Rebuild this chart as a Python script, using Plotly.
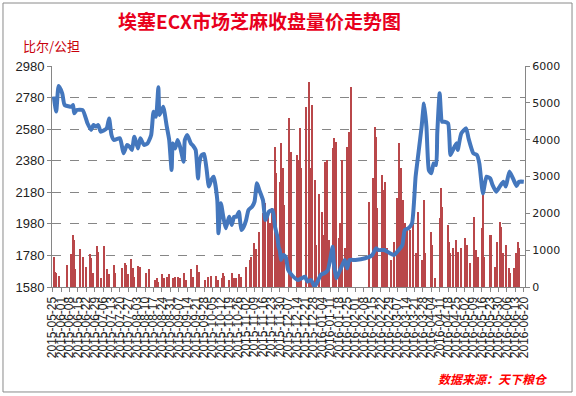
import plotly.graph_objects as go

# ---- price line (比尔/公担) ----
price_dates = [
    "2015-05-26","2015-05-28","2015-05-30","2015-06-02","2015-06-04","2015-06-10","2015-06-11","2015-06-12",
    "2015-06-14","2015-06-19","2015-06-23","2015-06-26","2015-06-28","2015-06-30","2015-07-02","2015-07-04",
    "2015-07-09","2015-07-11","2015-07-13","2015-07-15","2015-07-20","2015-07-23","2015-07-26","2015-07-28",
    "2015-07-30","2015-08-01","2015-08-04","2015-08-06","2015-08-09","2015-08-12","2015-08-15","2015-08-17",
    "2015-08-19","2015-08-21","2015-08-22","2015-08-25","2015-08-28","2015-08-30","2015-09-01","2015-09-02",
    "2015-09-04","2015-09-06","2015-09-08","2015-09-11","2015-09-12","2015-09-14","2015-09-17","2015-09-19",
    "2015-09-21","2015-09-23","2015-09-24","2015-09-26","2015-09-28","2015-09-30","2015-10-02","2015-10-04",
    "2015-10-06","2015-10-09","2015-10-10","2015-10-12","2015-10-14","2015-10-16","2015-10-18","2015-10-19",
    "2015-10-21","2015-10-23","2015-10-25","2015-10-27","2015-10-29","2015-10-31","2015-11-02","2015-11-04",
    "2015-11-07","2015-11-09","2015-11-11","2015-11-13","2015-11-16","2015-11-18","2015-11-21","2015-11-24",
    "2015-11-26","2015-11-28","2015-11-29","2015-11-30","2015-12-01","2015-12-03","2015-12-05","2015-12-07",
    "2015-12-10","2015-12-15","2015-12-18","2015-12-21","2015-12-23","2015-12-26","2015-12-29","2016-01-01",
    "2016-01-03","2016-01-06","2016-01-09","2016-01-13","2016-01-14","2016-01-16","2016-01-18","2016-01-21",
    "2016-01-23","2016-01-25","2016-01-27","2016-02-01","2016-02-09","2016-02-15","2016-02-18","2016-02-20",
    "2016-02-25","2016-02-29","2016-03-04","2016-03-08","2016-03-11","2016-03-13","2016-03-16","2016-03-19",
    "2016-03-22","2016-03-24","2016-03-27","2016-03-29","2016-03-31","2016-04-02","2016-04-04","2016-04-06",
    "2016-04-08","2016-04-09","2016-04-11","2016-04-13","2016-04-15","2016-04-18","2016-04-20","2016-04-22",
    "2016-04-25","2016-04-26","2016-04-29","2016-05-03","2016-05-05","2016-05-09","2016-05-12","2016-05-14",
    "2016-05-17","2016-05-20","2016-05-23","2016-05-25","2016-05-28","2016-05-31","2016-06-03","2016-06-05",
    "2016-06-08","2016-06-11","2016-06-14","2016-06-16","2016-06-20",
]
price_values = [
    2786, 2691, 2853, 2807, 2733, 2722, 2733, 2680,
    2701, 2701, 2617, 2575, 2606, 2596, 2606, 2564,
    2585, 2648, 2543, 2511, 2522, 2427, 2480, 2469,
    2448, 2532, 2458, 2522, 2480, 2490, 2543, 2691,
    2659, 2845, 2670, 2722, 2596, 2511, 2321, 2490,
    2458, 2511, 2469, 2374, 2511, 2543, 2490, 2473,
    2448, 2268, 2363, 2416, 2423, 2332, 2216, 2258,
    2279, 2131, 1920, 2110, 2025, 1952, 2004, 2025,
    1973, 2025, 2025, 2057, 1941, 1962, 2004, 2068,
    2089, 2121, 2237, 2194, 2131, 2004, 2057, 2068,
    1962, 1899, 1835, 1814, 1751, 1783, 1770, 1688,
    1656, 1624, 1635, 1645, 1614, 1624, 1582, 1624,
    1656, 1667, 1688, 1835, 1730, 1635, 1667, 1719,
    1751, 1698, 1751, 1751, 1762, 1783, 1825, 1814,
    1814, 1797, 1783, 1814, 1846, 1941, 1952, 1983,
    2279, 2406, 2596, 2743, 2596, 2321, 2300, 2363,
    2353, 2553, 2807, 2627, 2627, 2617, 2416, 2448,
    2490, 2448, 2553, 2585, 2522, 2427, 2416, 2363,
    2173, 2279, 2268, 2226, 2184, 2216, 2247, 2216,
    2311, 2268, 2220, 2247, 2247,
]

# ---- volume bars ----
vol_dates = [
    "2015-05-26","2015-05-27","2015-05-28","2015-05-30","2015-06-06","2015-06-09","2015-06-11","2015-06-12",
    "2015-06-13","2015-06-17","2015-06-19","2015-06-22","2015-06-25","2015-06-26","2015-06-28","2015-07-01",
    "2015-07-02","2015-07-04","2015-07-07","2015-07-09","2015-07-11","2015-07-15","2015-07-16","2015-07-22",
    "2015-07-24","2015-07-25","2015-07-27","2015-07-29","2015-07-31","2015-08-01","2015-08-04","2015-08-06",
    "2015-08-11","2015-08-13","2015-08-18","2015-08-20","2015-08-21","2015-08-24","2015-08-26","2015-08-28",
    "2015-08-30","2015-09-02","2015-09-04","2015-09-06","2015-09-08","2015-09-11","2015-09-13","2015-09-17",
    "2015-09-19","2015-09-22","2015-09-24","2015-09-29","2015-10-01","2015-10-04","2015-10-08","2015-10-10",
    "2015-10-13","2015-10-14","2015-10-15","2015-10-19","2015-10-21","2015-10-23","2015-10-25","2015-10-27",
    "2015-10-29","2015-11-02","2015-11-05","2015-11-06","2015-11-09","2015-11-10","2015-11-13","2015-11-16",
    "2015-11-17","2015-11-18","2015-11-20","2015-11-22","2015-11-24","2015-11-26","2015-11-27","2015-11-29",
    "2015-11-30","2015-12-01","2015-12-03","2015-12-04","2015-12-08","2015-12-09","2015-12-14","2015-12-15",
    "2015-12-17","2015-12-18","2015-12-22","2015-12-24","2015-12-25","2015-12-27","2015-12-29","2015-12-30",
    "2016-01-02","2016-01-04","2016-01-05","2016-01-07","2016-01-08","2016-01-10","2016-01-13","2016-01-14",
    "2016-01-16","2016-01-18","2016-01-19","2016-01-21","2016-01-23","2016-01-25","2016-01-27","2016-01-28",
    "2016-02-12","2016-02-16","2016-02-17","2016-02-18","2016-02-19","2016-02-23","2016-02-25","2016-02-26",
    "2016-02-27","2016-03-02","2016-03-04","2016-03-07","2016-03-08","2016-03-10","2016-03-12","2016-03-13",
    "2016-03-15","2016-03-17","2016-03-20","2016-03-22","2016-03-24","2016-03-27","2016-03-29","2016-03-30",
    "2016-04-04","2016-04-05","2016-04-07","2016-04-11","2016-04-12","2016-04-13","2016-04-18","2016-04-19",
    "2016-04-20","2016-04-22","2016-04-25","2016-04-26","2016-04-29","2016-05-02","2016-05-04","2016-05-06",
    "2016-05-10","2016-05-11","2016-05-13","2016-05-16","2016-05-17","2016-05-18","2016-05-23","2016-05-24",
    "2016-05-27","2016-05-29","2016-05-31","2016-06-01","2016-06-03","2016-06-05","2016-06-08","2016-06-09",
    "2016-06-12","2016-06-14","2016-06-15","2016-06-16",
]
vol_values = [
    823, 416, 380, 300, 597, 896, 1412, 1276,
    480, 1023, 823, 552, 896, 778, 371, 1113,
    955, 235, 1113, 480, 344, 597, 371, 507,
    642, 597, 344, 769, 507, 280, 570, 552,
    371, 480, 190, 235, 145, 344, 235, 280,
    344, 235, 280, 280, 235, 371, 190, 498,
    280, 597, 416, 190, 280, 300, 300, 190,
    235, 389, 300, 190, 371, 235, 235, 344,
    280, 552, 733, 823, 1185, 1023, 1503, 2000,
    1819, 2271, 1910, 1729, 2136, 3810, 3087, 1095,
    2860, 3901, 3222, 2226, 4600, 3674, 3584, 3448,
    4308, 3222, 4896, 5575, 3222, 4941, 2895, 1140,
    2534, 2035, 1412, 3403, 3448, 1276, 3765, 4036,
    3946, 1321, 1729, 3448, 1050, 3810, 4217, 5439,
    2317, 2950, 4353, 4081, 2136, 3041, 2633, 2860,
    1050, 733, 1231, 2407, 3901, 3222, 2362, 1729,
    1593, 1548, 2271, 914, 2035, 733, 2362, 914,
    1503, 1140, 235, 1864, 2679, 2181, 1684, 1231,
    914, 1050, 1276, 959, 1050, 1321, 1140, 642,
    1910, 1005, 823, 1593, 2534, 823, 1412, 1412,
    552, 1231, 1774, 1639, 914, 1140, 507, 371,
    507, 914, 1231, 1050,
]

title_text = "埃塞ECX市场芝麻收盘量价走势图"
unit_text = "比尔/公担"
source_text = "数据来源：天下粮仓"

DAY = 86400000

fig = go.Figure()
fig.add_trace(go.Bar(
    x=vol_dates, y=vol_values, yaxis="y",
    marker=dict(color="#b9474a", line=dict(width=0)),
    width=DAY * 1.0, showlegend=False,
))
fig.add_trace(go.Scatter(
    x=price_dates, y=price_values, yaxis="y2", mode="lines",
    line=dict(color="#4477bd", width=4, shape="spline", smoothing=0.5),
    showlegend=False,
))

axis_col = "#868686"
fig.update_layout(
    width=576, height=396,
    margin=dict(l=52, r=51, t=66, b=109),
    paper_bgcolor="white", plot_bgcolor="white",
    bargap=0,
    xaxis=dict(
        type="date", range=["2015-05-24 12:00", "2016-06-21"],
        tick0="2015-05-25", dtick=7 * DAY, tickformat="%Y-%m-%d",
        tickangle=-90, tickfont=dict(family="Liberation Sans", size=12, color="#222"),
        showline=True, linecolor=axis_col, ticks="outside", ticklen=4, tickcolor=axis_col,
        showgrid=False, zeroline=False, automargin=False,
    ),
    yaxis=dict(
        side="right", range=[0, 6000], dtick=1000, tick0=0,
        showline=True, linecolor=axis_col, ticks="outside", ticklen=4, tickcolor=axis_col,
        tickfont=dict(family="DejaVu Sans", size=11, color="#222"),
        showgrid=False, zeroline=False, automargin=False,
    ),
    yaxis2=dict(
        overlaying="y", side="left", range=[1580, 2980], dtick=200, tick0=1580,
        showline=True, linecolor=axis_col, ticks="outside", ticklen=4, tickcolor=axis_col,
        tickfont=dict(family="Liberation Sans", size=13, color="#222"),
        showgrid=True, gridcolor=axis_col, griddash="dash", gridwidth=1,
        zeroline=False, automargin=False,
    ),
    annotations=[
        dict(text="<b>" + title_text + "</b>", xref="paper", yref="paper",
             x=0.4397, y=1.208, xanchor="center", yanchor="middle", showarrow=False,
             font=dict(family="Noto Sans CJK SC", size=19, color="#e8001c")),
        dict(text=unit_text, xref="paper", yref="paper",
             x=-0.066, y=1.095, xanchor="left", yanchor="middle", showarrow=False,
             font=dict(family="Noto Sans CJK SC", size=13, color="#c8000a")),
        dict(text="<b><i>" + source_text + "</i></b>", xref="paper", yref="paper",
             x=1.053, y=-0.412, xanchor="right", yanchor="middle", showarrow=False,
             font=dict(family="Noto Sans CJK SC", size=12, color="#ff0000")),
    ],
    shapes=[
        dict(type="rect", xref="paper", yref="paper",
             x0=-0.1036, x1=1.0994, y0=-0.475, y1=1.285,
             line=dict(color="#8a8a8a", width=1), fillcolor="rgba(0,0,0,0)", layer="below"),
    ],
)

fig.write_html("out.html", config={"displayModeBar": False},
               post_script="document.body.style.margin='0';")
